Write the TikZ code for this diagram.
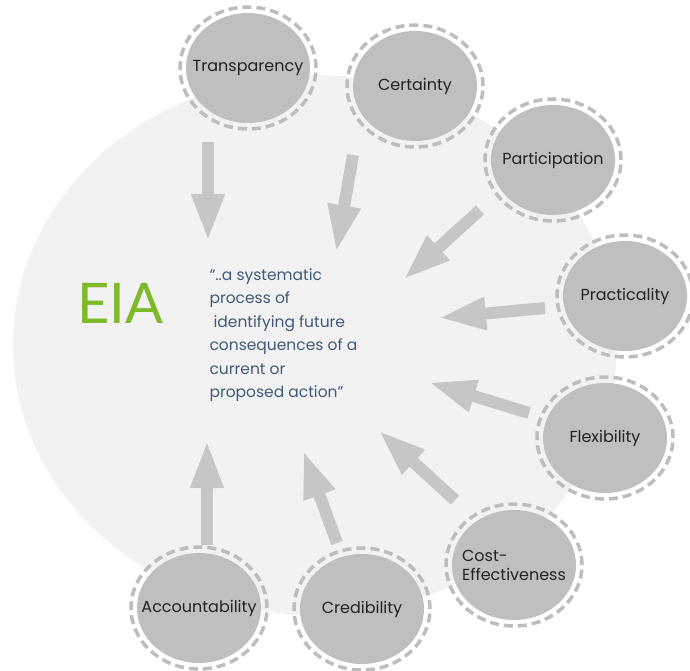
\documentclass[tikz,border=0pt]{standalone}
\usepackage{fontspec}
\setmainfont{Poppins}
\newfontfamily\eiafont{Lato}
\usepackage{xcolor}
\usetikzlibrary{shapes,arrows.meta,positioning}

\definecolor{backfill}{HTML}{F2F2F2}
\definecolor{bubblegray}{HTML}{BFBFBF}
\definecolor{ringgray}{HTML}{BDBDBD}
\definecolor{arrowgray}{HTML}{C6C6C6}
\definecolor{eiagreen}{HTML}{7DB928}
\definecolor{quoteblue}{HTML}{41597A}
\definecolor{labeltext}{HTML}{222222}

\begin{document}
\begin{tikzpicture}[
    x=1pt, y=-1pt,
    bubble/.style={ellipse, fill=bubblegray, minimum width=124pt, minimum height=110pt, inner xsep=-25pt, inner ysep=0pt, align=left, text=labeltext, font=\fontsize{16}{19}\selectfont},
    ring/.style={draw=ringgray, line width=3.5pt, dash pattern=on 9pt off 5pt},
    push/.style={draw=arrowgray, line width=12pt, -{Triangle[width=30pt,length=48pt]}}
]
    \useasboundingbox (0,0) rectangle (690,671);
    \fill[backfill] (315,345) ellipse [x radius=302pt, y radius=270pt];

    \node [bubble] (tr) at (248,68) {Transparency};
    \node [bubble] (ce) at (415,86) {Certainty};
    \node [bubble] (pa) at (553,160) {Participation};
    \node [bubble] (pr) at (625,296) {Practicality};
    \node [bubble] (fl) at (605,438) {Flexibility};
    \node [bubble] (co) at (514,565) {Cost-\\Effectiveness};
    \node [bubble] (cr) at (362,609) {Credibility};
    \node [bubble] (ac) at (199,608) {Accountability};
    \foreach \n in {tr,ce,pa,pr,fl,co,cr,ac}
        \draw [ring] (\n) ellipse [x radius=68pt, y radius=61pt];

    \node [text=eiagreen, font=\eiafont\fontsize{56}{60}\selectfont] (eia) at (120,303) {EIA};
    \node [anchor=north west, align=left, text=quoteblue, font=\fontsize{15.5}{23.5}\selectfont] (quote) at (206,265)
        {``..a systematic\\process of\\ \ identifying future\\consequences of a\\current or\\proposed action''};

    % Pushes toward the definition
    \coordinate (tr-a) at (208,142); \coordinate (tr-b) at (208,242);
    \coordinate (ce-a) at (353,155); \coordinate (ce-b) at (336,253);
    \coordinate (pa-a) at (480,210); \coordinate (pa-b) at (403,280);
    \coordinate (pr-a) at (545,308); \coordinate (pr-b) at (438,318);
    \coordinate (fl-a) at (529,413); \coordinate (fl-b) at (428,382);
    \coordinate (co-a) at (455,500); \coordinate (co-b) at (378,430);
    \coordinate (cr-a) at (337,543); \coordinate (cr-b) at (303,450);
    \coordinate (ac-a) at (207,545); \coordinate (ac-b) at (207,440);
    \foreach \n in {tr,ce,pa,pr,fl,co,cr,ac}
        \draw [push] (\n-a) -- (\n-b);

\end{tikzpicture}
\end{document}
